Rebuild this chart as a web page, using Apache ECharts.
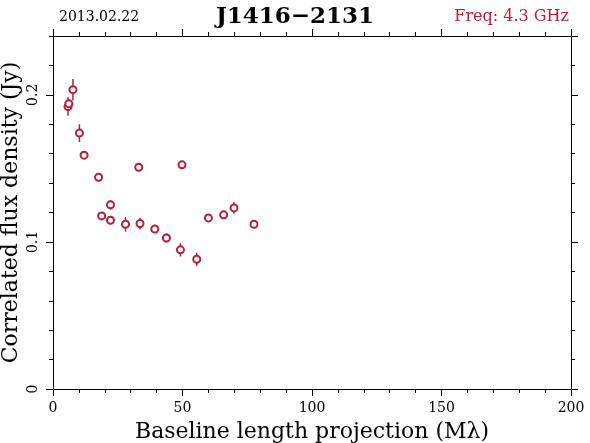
<!DOCTYPE html>
<html><head><meta charset="utf-8">
<script src="https://cdn.jsdelivr.net/npm/echarts@6/dist/echarts.min.js"></script>
<style>html,body{margin:0;padding:0;background:#fff}#c{width:590px;height:443px}</style>
</head><body><div id="c"></div>
<script>
// Data
const baseline = [5.8, 6.1, 7.7, 10.2, 12.0, 17.6, 18.8, 22.2, 22.2, 28.0, 33.1, 33.6, 39.3, 43.8, 49.2, 49.8, 55.5, 60.0, 65.9, 69.9, 77.6];
const flux     = [0.192, 0.194, 0.2035, 0.174, 0.159, 0.144, 0.1177, 0.1252, 0.1147, 0.112, 0.1508, 0.1125, 0.1088, 0.1027, 0.0946, 0.1524, 0.0882, 0.1163, 0.1184, 0.1231, 0.112];
const fluxErr  = [0.0063, 0.003, 0.0073, 0.006, 0.002, 0.002, 0.002, 0.0032, 0.002, 0.005, 0.002, 0.004, 0.002, 0.0032, 0.0045, 0.002, 0.0045, 0.0015, 0.002, 0.004, 0.0015];
const xTickLabels = ['0', '50', '100', '150', '200'];
const yTickLabels = ['0', '0.1', '0.2'];
const dateText = '2013.02.22';
const titleText = 'J1416\u22122131';
const freqText = 'Freq: 4.3 GHz';

const RED = '#b41e3c';
const FONT = '"DejaVu Serif", "Liberation Serif", serif';
const pts = baseline.map((x, i) => [x, flux[i], fluxErr[i]]);

const chart = echarts.init(document.getElementById('c'), null, {renderer: 'canvas'});
const lineStyle = {color: '#000', width: 1};
const xCommon = {type: 'value', min: 0, max: 200, interval: 50,
  axisLine: {show: true, onZero: false, lineStyle},
  axisTick: {show: true, inside: false, length: 7, lineStyle},
  minorTick: {show: true, splitNumber: 5, length: 4, lineStyle},
  splitLine: {show: false}};
const yCommon = (pos, interval, len) => ({type: 'value', min: 0, max: 0.24, interval, position: pos,
  axisLine: {show: true, onZero: false, lineStyle},
  axisTick: {show: true, inside: false, length: len, lineStyle},
  axisLabel: {show: false}, splitLine: {show: false}});

chart.setOption({
  animation: false,
  backgroundColor: '#fff',
  title: [
    {text: dateText, left: 54, top: 5, textStyle: {fontFamily: FONT, fontSize: 14, fontWeight: 'normal', color: '#000'}},
    {text: titleText, left: 'center', top: 1, textStyle: {fontFamily: FONT, fontSize: 23, fontWeight: 'bold', color: '#000'}},
    {text: freqText, right: 16, top: 4, textStyle: {fontFamily: FONT, fontSize: 16, fontWeight: 'normal', color: RED}}
  ],
  grid: {left: 53, right: 19, top: 36, bottom: 54, containLabel: false, outerBoundsMode: 'none'},
  xAxis: [
    Object.assign({}, xCommon, {position: 'bottom',
      name: 'Baseline length projection (M\u03bb)', nameLocation: 'middle', nameGap: 32, nameMoveOverlap: false,
      nameTextStyle: {fontFamily: FONT, fontSize: 22, color: '#000'},
      axisLabel: {show: true, margin: 12, fontFamily: FONT, fontSize: 14, color: '#000',
        formatter: v => { const i = [0, 50, 100, 150, 200].indexOf(v); return i >= 0 ? xTickLabels[i] : ''; }}}),
    Object.assign({}, xCommon, {position: 'top', axisLabel: {show: false}})
  ],
  yAxis: [
    Object.assign(yCommon('left', 0.1, 7), {
      name: 'Correlated flux density (Jy)', nameLocation: 'middle', nameGap: 31, nameRotate: 90, nameMoveOverlap: false,
      nameTextStyle: {fontFamily: FONT, fontSize: 22, color: '#000'},
      axisLabel: {show: true, rotate: 90, margin: 13, showMaxLabel: false, fontFamily: FONT, fontSize: 14, color: '#000',
        formatter: v => { const i = Math.round(v * 10); return (Math.abs(v * 10 - i) < 1e-6 && i <= 2) ? yTickLabels[i] : ''; }}}),
    yCommon('left', 0.02, 4),
    yCommon('right', 0.1, 7),
    yCommon('right', 0.02, 4)
  ],
  series: [
    {type: 'custom', xAxisIndex: 0, yAxisIndex: 0, data: pts, z: 2,
      renderItem: (params, api) => {
        const x = api.value(0), y = api.value(1), e = api.value(2);
        const p1 = api.coord([x, y - e]), p2 = api.coord([x, y + e]);
        return {type: 'line', shape: {x1: p1[0], y1: p1[1], x2: p2[0], y2: p2[1]},
          style: {stroke: RED, lineWidth: 1.5}};
      }},
    {type: 'scatter', xAxisIndex: 0, yAxisIndex: 0, data: pts, symbol: 'circle', symbolSize: 7, z: 3,
      itemStyle: {color: '#fff', borderColor: RED, borderWidth: 2, opacity: 1}}
  ]
});
</script></body></html>
